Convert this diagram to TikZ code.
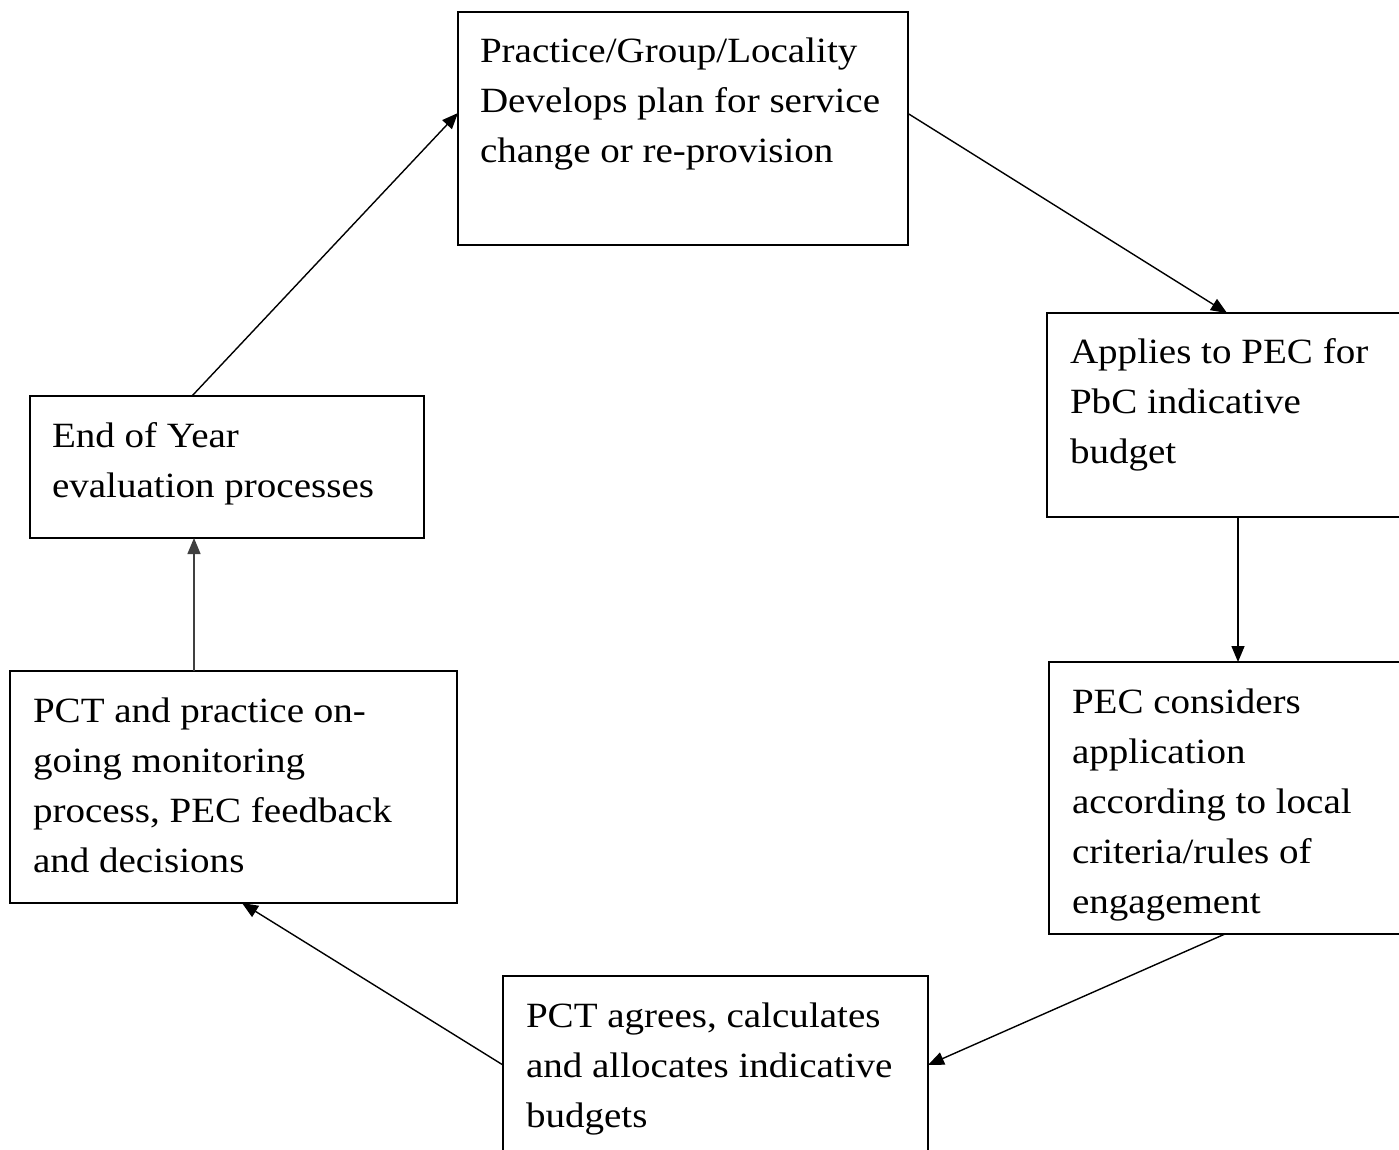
\documentclass[tikz,border=0pt]{standalone}
\usepackage{fontspec}
\setmainfont{Liberation Serif}[FakeStretch=1.1]
\usetikzlibrary{arrows.meta}
\begin{document}
\begin{tikzpicture}[x=1pt,y=-1pt,
  box/.style={draw=black,line width=1.8pt,inner sep=0pt,outer sep=0pt,anchor=north west,fill=white},
  txt/.style={anchor=base west,inner sep=0pt,outer sep=0pt,font=\fontsize{35.5}{50}\selectfont},
  conn/.style={line width=1.4pt,-{Triangle[length=16pt,width=13pt]}}]
\useasboundingbox (0,0) rectangle (1399,1150);
\fill[white] (0,0) rectangle (1399,1150);
\clip (0,0) rectangle (1399,1150);
% boxes
\node[box,minimum width=450pt,minimum height=233pt] (top) at (458,12) {};
\node[box,minimum width=400pt,minimum height=204pt] (app) at (1047,313) {};
\node[box,minimum width=400pt,minimum height=272pt] (pec) at (1049,662) {};
\node[box,minimum width=425pt,minimum height=250pt] (agr) at (503,976) {};
\node[box,minimum width=447pt,minimum height=232pt] (mon) at (10,671) {};
\node[box,minimum width=394pt,minimum height=142pt] (eoy) at (30,396) {};
% texts
\node[txt] (t1) at (480,63) {\parbox[t]{420pt}{\raggedright Practice/Group/Locality\\Develops plan for service\\change or re-provision}};
\node[txt] (t2) at (1070,363) {\parbox[t]{330pt}{\raggedright Applies to PEC for\\PbC indicative\\budget}};
\node[txt] (t3) at (1072,713) {\parbox[t]{320pt}{\raggedright PEC considers\\application\\according to local\\criteria/rules of\\engagement}};
\node[txt] (t4) at (526,1027) {\parbox[t]{400pt}{\raggedright PCT agrees, calculates\\and allocates indicative\\budgets}};
\node[txt] (t5) at (33,722) {\parbox[t]{420pt}{\raggedright PCT and practice on-\\going monitoring\\process, PEC feedback\\and decisions}};
\node[txt] (t6) at (52,447) {\parbox[t]{370pt}{\raggedright End of Year\\evaluation processes}};
% connectors
\draw[conn] ([yshift=15pt]top.east) -- ([xshift=180pt]app.north west);
\draw[conn] ([xshift=191pt]app.south west) -- ([xshift=191pt]app.south west |- pec.north);
\draw[conn] ([xshift=176pt]pec.south west) -- ([yshift=-89pt]agr.north east);
\draw[conn] ([yshift=-89pt]agr.north west) -- ([xshift=232pt]mon.south west);
\draw[conn,draw=black!75] ([xshift=184pt]mon.north west) -- ([xshift=164pt]eoy.south west);
\draw[conn] ([xshift=162pt]eoy.north west) -- ([yshift=-101pt]top.north west);
\end{tikzpicture}
\end{document}
